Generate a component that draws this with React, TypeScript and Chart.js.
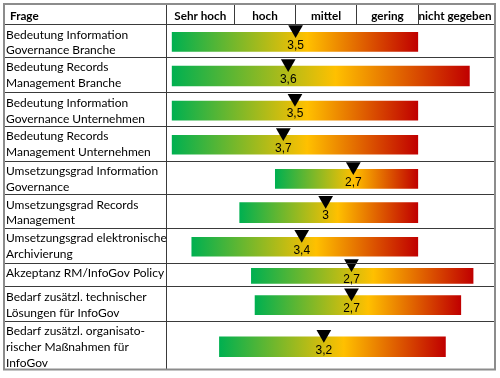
import { useEffect, useRef } from "react";
import { Chart, registerables } from "chart.js";

Chart.register(...registerables);

// ---------- data ----------
const HEADER_FIRST = "Frage";
const SCALE_LABELS = ["Sehr hoch", "hoch", "mittel", "gering", "nicht gegeben"];
const SCALE_VALUES = [5, 4, 3, 2, 1];
const QUESTIONS: string[][] = [
  ["Bedeutung Information", "Governance Branche"],
  ["Bedeutung Records", "Management Branche"],
  ["Bedeutung Information", "Governance Unternehmen"],
  ["Bedeutung Records", "Management Unternehmen"],
  ["Umsetzungsgrad Information", "Governance"],
  ["Umsetzungsgrad Records", "Management"],
  ["Umsetzungsgrad elektronische", "Archivierung"],
  ["Akzeptanz RM/InfoGov Policy"],
  ["Bedarf zusätzl. technischer", "Lösungen für InfoGov"],
  ["Bedarf zusätzl. organisato-", "rischer Maßnahmen für", "InfoGov"],
];
const RANGE_START = [5.5, 5.5, 5.5, 5.5, 3.82, 4.4, 5.18, 4.21, 4.15, 4.73];
const RANGE_END = [1.5, 0.66, 1.5, 1.5, 1.5, 1.5, 1.5, 0.6, 0.8, 1.05];
const MARKER_POS = [3.49, 3.61, 3.5, 3.69, 2.55, 3.0, 3.39, 2.58, 2.58, 3.03];
const MARKER_LABELS = ["3,5", "3,6", "3,5", "3,7", "2,7", "3", "3,4", "2,7", "2,7", "3,2"];

// ---------- layout ----------
const W = 500;
const H = 378;
const ROW_HEIGHTS = [33, 36, 34, 35, 34, 34, 35, 24, 35, 49];
const BAR_THICKNESS = [19, 20, 19, 19, 19, 20, 19, 15, 19, 20];
const TABLE = { left: 4, right: 495, top: 4 };
const PAD = { left: 166, right: 6, top: 24, bottom: 5 };
const X_MIN = 0.3;
const X_MAX = 5.6;
const TEXT_FAMILY = "Lato, 'Open Sans', sans-serif";
const LABEL_FONT = "12px 'Liberation Sans', Arial, sans-serif";
const GRAD = ["#00B050", "#FFC000", "#C00000"];

const ROW_TOPS: number[] = [];
let acc = 0;
ROW_HEIGHTS.forEach((h) => {
  ROW_TOPS.push(acc);
  acc += h;
});
const TOTAL = acc;
const BAR_CENTERS = ROW_TOPS.map((t, i) => t + ROW_HEIGHTS[i] / 2 + 1.5);

function fitSize(ctx: CanvasRenderingContext2D, weight: string, sample: string, target: number) {
  ctx.font = `${weight} 12px ${TEXT_FAMILY}`;
  const w = ctx.measureText(sample).width || target;
  return (12 * target) / w;
}

const tablePlugin = {
  id: "tablePlugin",
  afterDatasetsDraw(chart: any) {
    const { ctx, scales } = chart;
    const xs = scales.x;
    ctx.save();
    ctx.font = LABEL_FONT;
    ctx.fillStyle = "#000";
    ctx.textAlign = "center";
    ctx.textBaseline = "middle";
    MARKER_LABELS.forEach((lab, i) => {
      const px = xs.getPixelForValue(MARKER_POS[i]);
      const py = scales.y.getPixelForValue(BAR_CENTERS[i]) + 3.5;
      ctx.fillText(lab, px, py);
    });
    ctx.restore();
  },
  afterDraw(chart: any) {
    const { ctx, chartArea: a, scales } = chart;
    const xs = scales.x;
    const ys = scales.y;
    const L = TABLE.left;
    const R = TABLE.right;
    const T = TABLE.top;
    const B = a.bottom;
    ctx.save();

    // inner lines
    ctx.strokeStyle = "#3a3a3a";
    ctx.lineWidth = 1;
    ctx.beginPath();
    ctx.moveTo(L, a.top + 0.5);
    ctx.lineTo(R, a.top + 0.5);
    for (let i = 1; i < ROW_TOPS.length; i++) {
      const y = Math.round(ys.getPixelForValue(ROW_TOPS[i])) + 0.5;
      ctx.moveTo(L, y);
      ctx.lineTo(R, y);
    }
    ctx.moveTo(a.left + 0.5, T);
    ctx.lineTo(a.left + 0.5, B);
    const bounds: number[] = [a.left];
    for (let i = 0; i < SCALE_VALUES.length - 1; i++) {
      const v = (SCALE_VALUES[i] + SCALE_VALUES[i + 1]) / 2;
      const px = Math.round(xs.getPixelForValue(v)) + 0.5;
      bounds.push(px);
      ctx.moveTo(px, T);
      ctx.lineTo(px, a.top);
    }
    bounds.push(a.right);
    ctx.stroke();

    // outer border
    ctx.strokeStyle = "#8c8c8c";
    ctx.lineWidth = 2;
    ctx.strokeRect(L, T, R - L, B - T);

    // header texts
    const hSize = fitSize(ctx, "bold", "nicht gegeben", 73);
    ctx.font = `bold ${hSize}px ${TEXT_FAMILY}`;
    ctx.fillStyle = "#000";
    ctx.textBaseline = "alphabetic";
    ctx.textAlign = "left";
    ctx.fillText(HEADER_FIRST, 10, 20);
    ctx.textAlign = "center";
    SCALE_LABELS.forEach((lab, i) => {
      ctx.fillText(lab, (bounds[i] + bounds[i + 1]) / 2, 20);
    });

    // question texts
    const qSize = fitSize(ctx, "normal", "Umsetzungsgrad elektronische", 161);
    ctx.font = `normal ${qSize}px ${TEXT_FAMILY}`;
    ctx.textAlign = "left";
    QUESTIONS.forEach((lines, i) => {
      const top = ys.getPixelForValue(ROW_TOPS[i]);
      lines.forEach((ln, j) => {
        ctx.fillText(ln, 6, top + 14.5 + j * 15.7);
      });
    });
    ctx.restore();
  },
};

export default function App() {
  const ref = useRef<HTMLCanvasElement | null>(null);
  useEffect(() => {
    if (!ref.current) return;
    const barDatasets = QUESTIONS.map((_, i) => ({
      type: "bar" as const,
      data: [{ x: [RANGE_START[i], RANGE_END[i]], y: BAR_CENTERS[i] }],
      barThickness: BAR_THICKNESS[i],
      grouped: false,
      order: 2,
      borderWidth: 0,
      backgroundColor: (c: any) => {
        const chart = c.chart;
        const raw = c.raw;
        if (!chart.chartArea || !raw || !chart.scales.x) return GRAD[1];
        const x0 = chart.scales.x.getPixelForValue(raw.x[0]);
        const x1 = chart.scales.x.getPixelForValue(raw.x[1]);
        const g = chart.ctx.createLinearGradient(x0, 0, x1, 0);
        g.addColorStop(0, GRAD[0]);
        g.addColorStop(0.55, GRAD[1]);
        g.addColorStop(1, GRAD[2]);
        return g;
      },
    }));
    const markerDataset = {
      type: "scatter" as const,
      data: MARKER_POS.map((v, i) => ({ x: v, y: BAR_CENTERS[i] - 12.5 })),
      order: 0,
      pointStyle: "triangle",
      pointRotation: 180,
      pointRadius: 8.5,
      pointHoverRadius: 8.5,
      pointBackgroundColor: "#000",
      pointBorderColor: "#000",
      pointBorderWidth: 0,
      showLine: false,
      clip: false,
    };
    const chart = new Chart(ref.current, {
      type: "bar",
      data: { datasets: [markerDataset as any, ...(barDatasets as any)] },
      options: {
        indexAxis: "y",
        animation: false,
        responsive: false,
        devicePixelRatio: 1,
        layout: { padding: PAD },
        events: [],
        scales: {
          x: { type: "linear", min: X_MIN, max: X_MAX, reverse: true, offset: false, display: false },
          y: { type: "linear", min: 0, max: TOTAL, reverse: true, offset: false, display: false },
        },
        plugins: {
          legend: { display: false },
          tooltip: { enabled: false },
        },
      },
      plugins: [tablePlugin],
    });
    return () => chart.destroy();
  }, []);
  return (
    <div style={{ position: "absolute", left: 0, top: 0, width: W, height: H, background: "#fff" }}>
      <canvas ref={ref} width={W} height={H} style={{ display: "block" }} />
    </div>
  );
}
